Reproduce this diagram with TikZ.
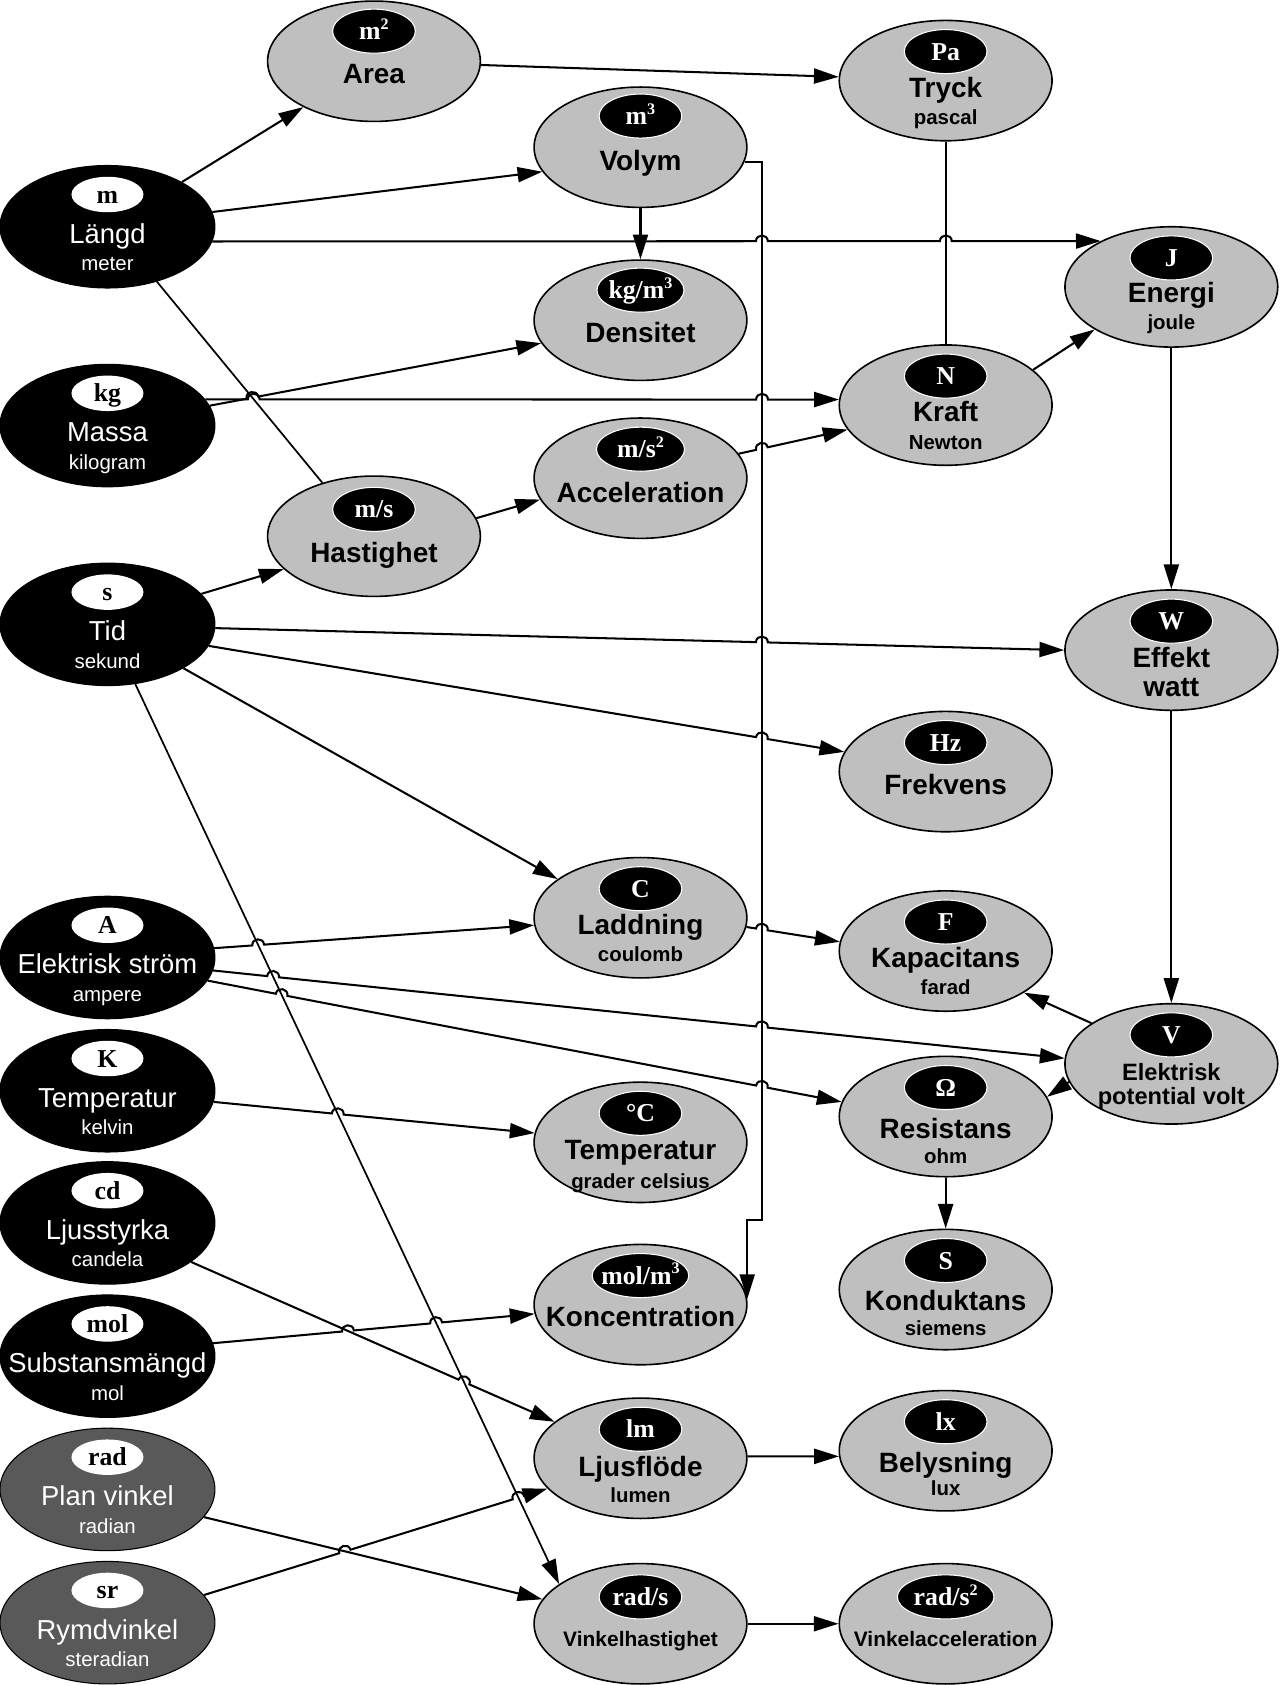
\documentclass[tikz,border=0pt]{standalone}
\usepackage{fontspec}
\setmainfont{Liberation Sans}
\newfontfamily\tmsfam{Liberation Serif}
\usetikzlibrary{shapes.geometric,arrows.meta,calc}
\definecolor{ltg}{RGB}{191,191,191}
\definecolor{dkg}{RGB}{89,89,89}
\newcommand\hp[3]{-- ($(#3)!5.5pt!(#1)$) to[bend left=90,looseness=1.65] ($(#3)!5.5pt!(#2)$)}
\newcommand\bdgfont{\tmsfam\bfseries\fontsize{24}{24}\selectfont}
\newcommand\gtfont{\bfseries\fontsize{26}{28}\selectfont}
\newcommand\gufont{\bfseries\fontsize{19}{21}\selectfont}
\newcommand\gsfont{\bfseries\fontsize{19.5}{21}\selectfont}
\newcommand\gvfont{\bfseries\fontsize{22}{24}\selectfont}
\newcommand\btfont{\fontsize{25.5}{28}\selectfont}
\newcommand\bufont{\fontsize{19}{21}\selectfont}
\newcommand\sus[1]{\raisebox{9.5pt}{\fontsize{15}{15}\selectfont #1}}
\newcommand\bnode[6]{%
 \node[#1] (#2) at (100,#3) {};
 \node[wb] (#2b) at (100,#3-30) {#4};
 \node[bt] (#2t) at (100,#3+6) {#5};
 \node[bu] (#2u) at (100,#3+34) {#6};}
\newcommand\gn[8]{%
 \node[gry] (#1) at (#2,#3) {};
 \node[bb,#8] (#1b) at (#2,#4) {#5};
 \node[gt] (#1t) at (#2,#6) {#7};}
\newcommand\hopone[3]{%
 \coordinate (hx) at (intersection of #1--#2 and #3);
 \draw[arr] (#1) \hp{#1}{#2}{hx} -- (#2);}
\newcommand\hoptwo[4]{%
 \coordinate (hx) at (intersection of #1--#2 and #3);
 \coordinate (hy) at (intersection of #1--#2 and #4);
 \draw[arr] (#1) \hp{#1}{#2}{hx} \hp{#1}{#2}{hy} -- (#2);}
\begin{document}
\begin{tikzpicture}[x=1pt,y=-1pt,
 blk/.style={ellipse,fill=black,draw=black,line width=1pt,minimum width=200pt,minimum height=114pt,inner sep=0pt},
 drk/.style={blk,fill=dkg},
 gry/.style={ellipse,fill=ltg,draw=black,line width=1.5pt,minimum width=198pt,minimum height=112pt,inner sep=0pt},
 bb/.style={ellipse,fill=black,draw=white,line width=1pt,minimum width=77pt,minimum height=41pt,inner xsep=-14pt,inner ysep=-8pt,text=white,font=\bdgfont,text height=15.9pt,text depth=0pt},
 wb/.style={ellipse,fill=white,minimum width=67pt,minimum height=33pt,inner xsep=-14pt,inner ysep=-8pt,text=black,font=\bdgfont,text height=15.9pt,text depth=0pt},
 gt/.style={inner sep=0pt,font=\gtfont,text height=18.7pt,text depth=0pt},
 gu/.style={inner sep=0pt,font=\gufont,text height=13.7pt,text depth=0pt},
 bt/.style={inner sep=0pt,text=white,font=\btfont,text height=18.4pt,text depth=0pt},
 bu/.style={inner sep=0pt,text=white,font=\bufont,text height=13.7pt,text depth=0pt},
 arr/.style={line width=1.9pt,-{Triangle[length=23pt,width=14pt]}},
 thl/.style={line width=1.6pt},
 arrt/.style={thl,-{Triangle[length=23pt,width=14pt]}}]
\fill[white] (0,0) rectangle (1191,1568);
\useasboundingbox (0,0) rectangle (1191,1568);
% base quantities
\bnode{blk}{lan}{211}{m}{Längd}{meter}
\bnode{blk}{mas}{396}{kg}{Massa}{kilogram}
\bnode{blk}{tid}{581}{s}{Tid}{sekund}
\bnode{blk}{str}{891}{A}{Elektrisk ström}{ampere}
\bnode{blk}{kel}{1015}{K}{Temperatur}{kelvin}
\bnode{blk}{cdl}{1138}{cd}{Ljusstyrka}{candela}
\bnode{blk}{mol}{1262}{mol}{Substansmängd}{mol}
\bnode{drk}{rad}{1386}{rad}{Plan vinkel}{radian}
\bnode{drk}{srn}{1510}{sr}{Rymdvinkel}{steradian}
% derived quantities
\gn{area}{348}{57}{29}{m\sus{2}}{68}{Area}{}
\gn{has}{348}{499}{474}{m/s}{514}{Hastighet}{}
\gn{vol}{596}{137}{108}{m\sus{3}}{149}{Volym}{}
\gn{den}{596}{298}{270}{kg/m\sus{3}}{309}{Densitet}{minimum width=81pt}
\gn{acc}{596}{445}{418}{m/s\sus{2}}{458}{Acceleration}{minimum width=82pt}
\gn{lad}{596}{854}{827}{C}{860}{Laddning}{}
\node[gu] (ladu) at (596,888) {coulomb};
\gn{cel}{596}{1063}{1036}{°C}{1070}{Temperatur}{}
\node[gu] (celu) at (596,1099) {grader celsius};
\gn{kon}{596}{1214}{1187}{mol/m\sus{3}}{1225}{Koncentration}{minimum width=90pt}
\gn{lum}{596}{1357}{1330}{lm}{1365}{Ljusflöde}{}
\node[gu] (lumu) at (596,1391) {lumen};
\node[gry] (vh) at (596,1511) {};
\node[bb] (vhb) at (596,1486) {rad/s};
\node[gt,font=\gsfont,text height=14pt] (vht) at (596,1525) {Vinkelhastighet};
\gn{try}{880}{75}{48}{Pa}{81}{Tryck}{}
\node[gu] (tryu) at (880,109) {pascal};
\gn{kra}{880}{377}{350}{N}{383}{Kraft}{}
\node[gu] (krau) at (880,411) {Newton};
\gn{frk}{880}{718}{691}{Hz}{730}{Frekvens}{}
\gn{kap}{880}{885}{858}{F}{891}{Kapacitans}{}
\node[gu] (kapu) at (880,919) {farad};
\gn{res}{880}{1039}{1012}{Ω}{1050}{Resistans}{}
\node[gu] (resu) at (880,1076) {ohm};
\gn{kond}{880}{1200}{1173}{S}{1210}{Konduktans}{}
\node[gu] (kondu) at (880,1236) {siemens};
\gn{bel}{880}{1350}{1323}{lx}{1361}{Belysning}{}
\node[gu] (belu) at (880,1385) {lux};
\node[gry] (va) at (880,1511) {};
\node[bb,minimum width=90pt] (vab) at (880,1486) {rad/s\sus{2}};
\node[gt,font=\gsfont,text height=14pt] (vat) at (880,1525) {Vinkelacceleration};
\gn{ene}{1090}{267}{240}{J}{272}{Energi}{}
\node[gu] (eneu) at (1090,300) {joule};
\gn{eff}{1090}{605}{578}{W}{612}{Effekt}{}
\node[gt] (effu) at (1090,639) {watt};
\node[gry] (volt) at (1090,990) {};
\node[bb] (voltb) at (1090,963) {V};
\node[gt,font=\gvfont,text height=15.8pt] (voltt) at (1090,998) {Elektrisk};
\node[gt,font=\gvfont,text height=15.8pt] (voltu) at (1090,1020) {potential volt};
% plain connectors
\coordinate (vx) at (709,0);
\draw[arr] (vol.352) -- (vol.352 -| vx) coordinate (vc1) -- (709,1135) coordinate (vc2) -- (vc2 -| kon.3) -- (kon.3);
\draw[thl] (try.south) coordinate (tk1) -- (kra.north) coordinate (tk2);
\draw[thl] (lan.312) coordinate (lh1) -- (has.134) coordinate (lh2);
\draw[arrt] (tid.295) coordinate (d1) -- (vh.154) coordinate (d2);
\draw[arr] (rad.344) coordinate (r1) -- (vh.166) coordinate (r2);
\draw[arr] (lan.31) -- (area.213);
\draw[arr] (lan.8) -- (vol.194);
\draw[arr] (vol.south) -- (den.north);
\draw[arr] (has.10) -- (acc.192);
\draw[arr] (area.358) -- (try.178);
\draw[arr] (kra.22) -- (ene.209);
\draw[arr] (ene.south) -- (eff.north);
\draw[arr] (tid.18) -- (has.200);
\draw[arr] (tid.330) -- (lad.155);
\draw[arr] (eff.south) -- (volt.north);
\draw[arr] (volt.153) -- (kap.332);
\draw[arr] (volt.190) -- (res.11);
\draw[arr] (res.south) -- (kond.north);
\draw[arr] (lum.1) -- (bel.183);
\draw[arr] (vh.east) -- (va.west);
% connectors with line hops
\coordinate (s3) at (lan.352); \coordinate (e3) at (ene.147); \hoptwo{s3}{e3}{vc1--vc2}{tk1--tk2}
\coordinate (s7) at (mas.11); \coordinate (e7) at (den.193); \hopone{s7}{e7}{lh1--lh2}
\coordinate (s8) at (mas.15); \coordinate (e8) at (kra.177); \hoptwo{s8}{e8}{lh1--lh2}{vc1--vc2}
\coordinate (s10) at (acc.14); \coordinate (e10) at (kra.194); \hopone{s10}{e10}{vc1--vc2}
\coordinate (s16) at (tid.358); \coordinate (e16) at (eff.180); \hopone{s16}{e16}{vc1--vc2}
\coordinate (s17) at (tid.348); \coordinate (e17) at (frk.169); \hopone{s17}{e17}{vc1--vc2}
\coordinate (s21) at (str.5); \coordinate (e21) at (lad.184); \hopone{s21}{e21}{d1--d2}
\coordinate (s22) at (str.353); \coordinate (e22) at (volt.177); \hoptwo{s22}{e22}{d1--d2}{vc1--vc2}
\coordinate (s23) at (str.347); \coordinate (e23) at (res.172); \hoptwo{s23}{e23}{d1--d2}{vc1--vc2}
\coordinate (s24) at (lad.355); \coordinate (e24) at (kap.175); \hopone{s24}{e24}{vc1--vc2}
\coordinate (s28) at (kel.354); \coordinate (e28) at (cel.175); \hopone{s28}{e28}{d1--d2}
\coordinate (s29) at (cdl.335); \coordinate (e29) at (lum.157); \hopone{s29}{e29}{d1--d2}
\coordinate (s30) at (mol.7); \coordinate (e30) at (kon.185); \hoptwo{s30}{e30}{s29--e29}{d1--d2}
\coordinate (s33) at (srn.16); \coordinate (e33) at (lum.198); \hoptwo{s33}{e33}{r1--r2}{d1--d2}
\end{tikzpicture}
\end{document}
